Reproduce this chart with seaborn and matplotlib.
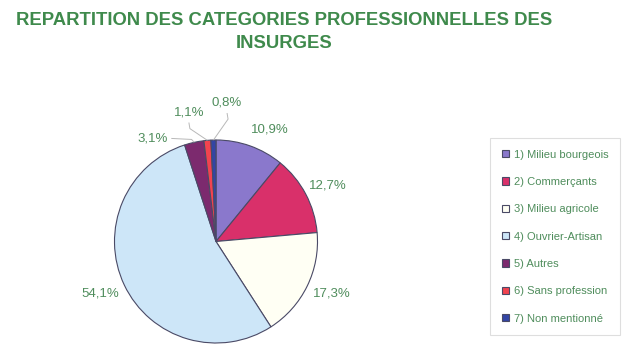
import numpy as np
import matplotlib.pyplot as plt
import seaborn as sns

categories = ["1) Milieu bourgeois", "2) Commerçants", "3) Milieu agricole",
              "4) Ouvrier-Artisan", "5) Autres", "6) Sans profession",
              "7) Non mentionné"]
shares = [10.9, 12.7, 17.3, 54.1, 3.1, 1.1, 0.8]
pct_labels = ["10,9%", "12,7%", "17,3%", "54,1%", "3,1%", "1,1%", "0,8%"]
title_text = "REPARTITION DES CATEGORIES PROFESSIONNELLES DES\nINSURGES"

# styling
colors = ["#8a78cc", "#d9306a", "#fffff4", "#cde6f8", "#7c2a6e", "#f2434f", "#3345a5"]
green_title = "#3f8a4c"
green_text = "#4f8d5c"
label_shift = [-6, -1, 2, -1, 19, 7, -6]
label_dist = [1.22, 1.23, 1.25, 1.25, 1.19, 1.30, 1.37]
leader = {4: "h", 5: "v", 6: "v"}

sns.set_theme(style="white")
plt.rcParams["font.family"] = ["Liberation Sans", "DejaVu Sans"]

W, H = 627, 362
cx, cy, r = 216, 241.5, 101.5

fig = plt.figure(figsize=(W / 100, H / 100), dpi=100)
ax = fig.add_axes([0, 0, 1, 1])
wedges, _ = ax.pie(shares, colors=colors, startangle=90, counterclock=False,
                   radius=1, wedgeprops=dict(edgecolor="#4a4a66", linewidth=0.8))
ax.set_xlim(-cx / r, (W - cx) / r)
ax.set_ylim(-(H - cy) / r, cy / r)
ax.set_aspect("auto")
ax.axis("off")

for i, w in enumerate(wedges):
    mid = np.deg2rad((w.theta1 + w.theta2) / 2)
    ang = mid + np.deg2rad(label_shift[i])
    tx, ty = label_dist[i] * np.cos(ang), label_dist[i] * np.sin(ang)
    ax.text(tx, ty, pct_labels[i], ha="center", va="center",
            fontsize=9.5, color=green_text)
    if i in leader:
        ex, ey = np.cos(mid), np.sin(mid)
        if leader[i] == "h":
            xs = [tx + 0.18, tx + 0.38, ex]
            ys = [ty, ty - 0.01, ey]
        else:
            xs = [tx, tx + 0.01, ex]
            ys = [ty - 0.10, ty - 0.16, ey]
        ax.plot(xs, ys, color="#b8b8b8", lw=0.7, solid_capstyle="butt")

fig.text(284 / W, 1 - 12 / H, title_text, ha="center", va="top",
         fontsize=13.3, weight="bold", color=green_title, linespacing=1.5)

leg = fig.legend(wedges, categories, loc="upper left",
                 bbox_to_anchor=(490 / W, 1 - 138 / H), fontsize=8,
                 labelcolor=green_text, frameon=True, fancybox=False,
                 borderpad=1.05, labelspacing=1.56, handlelength=0.65,
                 handleheight=0.65, handletextpad=0.45, borderaxespad=0)
leg.get_frame().set_edgecolor("#d6d6d6")
leg.get_frame().set_linewidth(0.8)

fig.savefig("out.png", dpi=100, facecolor="white")
